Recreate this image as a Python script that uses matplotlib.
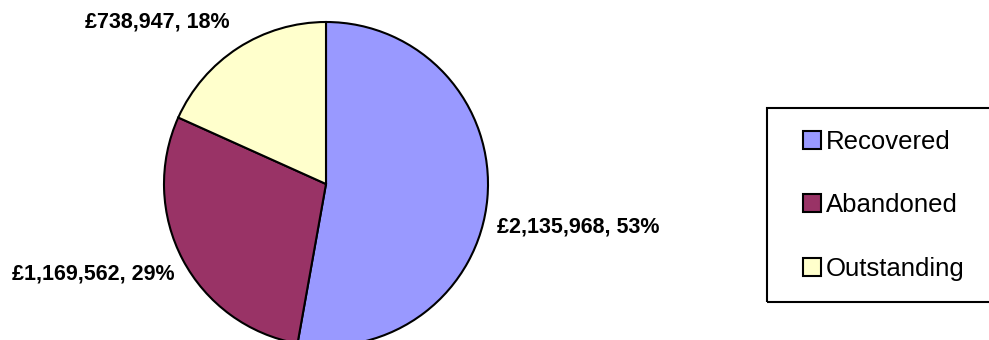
import matplotlib
matplotlib.use("Agg")
import matplotlib.pyplot as plt
from matplotlib.patches import Rectangle

categories = ["Recovered", "Abandoned", "Outstanding"]
amounts = [2135968, 1169562, 738947]
colors = ["#9999FF", "#993366", "#FFFFCC"]

W, H = 989, 340
plt.rcParams["font.family"] = ["Liberation Sans", "DejaVu Sans"]

fig = plt.figure(figsize=(W / 100, H / 100), dpi=100)
ax = fig.add_axes([0, 0, 1, 1])

# pie centre/radius in pixel units (y measured from the bottom)
wedges, _ = ax.pie(amounts, colors=colors, startangle=90, counterclock=False,
                   center=(326, H - 184), radius=162,
                   wedgeprops=dict(edgecolor="black", linewidth=1.5))
ax.set_xlim(0, W)
ax.set_ylim(0, H)
ax.set_aspect("equal")
ax.axis("off")

total = sum(amounts)
labels = ["£{:,}, {:.0f}%".format(v, 100 * v / total) for v in amounts]
label_pos = [(497, 227), (12, 274), (85, 22)]
for txt, (x, y) in zip(labels, label_pos):
    ax.text(x, H - y, txt, ha="left", va="center", fontsize=15.5,
            fontweight="bold", color="black")

# legend box
ax.add_patch(Rectangle((767, H - 302), 260, 194, fill=False,
                       edgecolor="black", linewidth=1.5, clip_on=False))
ax.legend(wedges, categories, frameon=False, loc="upper left",
          bbox_to_anchor=(803 / W, 1 - 130 / H), borderpad=0, borderaxespad=0,
          fontsize=18.5, handlelength=0.7, handleheight=0.7,
          handletextpad=0.2, labelspacing=1.53)

fig.savefig("out.png", dpi=100)
